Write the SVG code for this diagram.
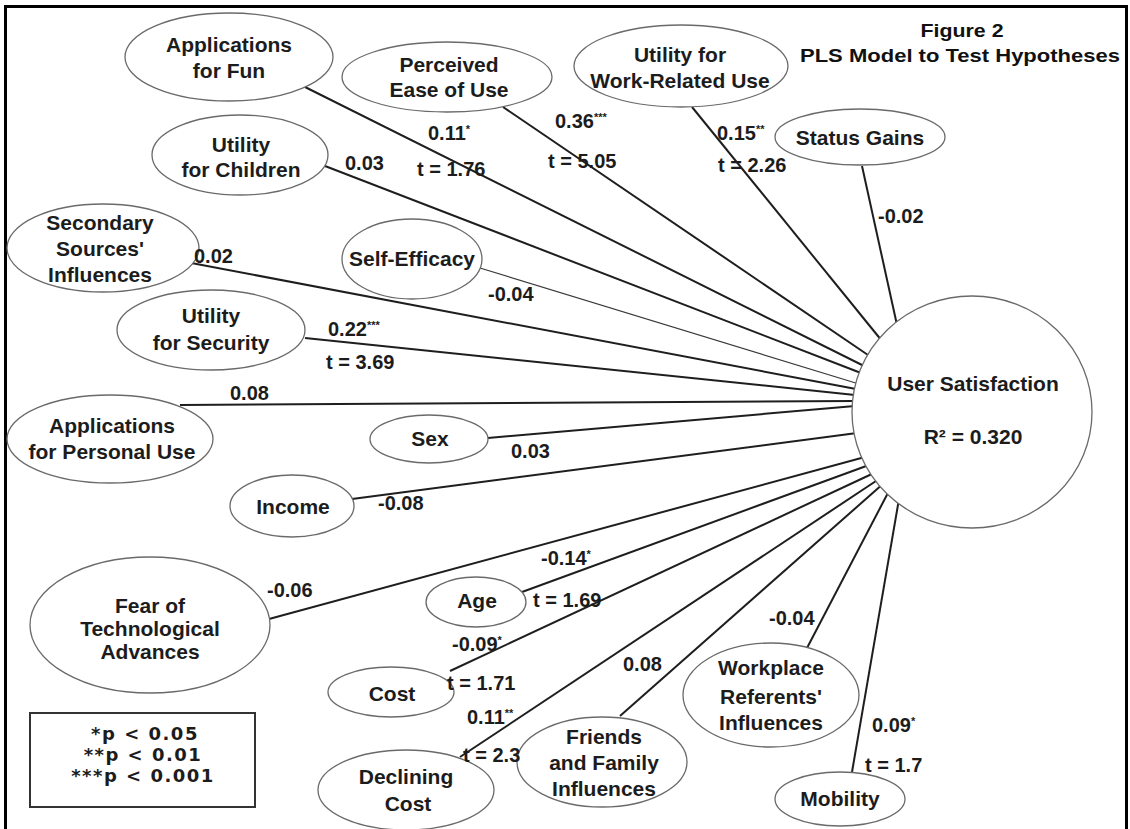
<svg xmlns="http://www.w3.org/2000/svg" width="1130" height="829" viewBox="0 0 1130 829">
<style>
.bg{fill:#fff}
.frame{fill:none;stroke:#000;stroke-width:3}
.node{fill:#fff;stroke:#6a6a6a;stroke-width:1.3}
.edge{stroke:#1e1e1e;stroke-width:2;fill:none}
.thin{stroke:#3a3a3a;stroke-width:1.3}
.nt{font-family:"Liberation Sans",Arial,sans-serif;font-weight:bold;font-size:21px;fill:#1c1c1c;text-anchor:middle}
.lbl{font-family:"Liberation Sans",Arial,sans-serif;font-weight:bold;font-size:20px;fill:#1c1c1c}
.sup{font-size:11px}
.title{font-family:"Liberation Sans",Arial,sans-serif;font-weight:bold;font-size:18px;fill:#111;text-anchor:middle}
.leg{font-family:"DejaVu Sans",Verdana,sans-serif;font-weight:bold;font-size:18px;fill:#1c1c1c;text-anchor:middle;letter-spacing:1.5px}
.legbox{fill:#fff;stroke:#333;stroke-width:2}
</style>
<rect class="bg" x="0" y="0" width="1130" height="829"/>
<rect class="frame" x="5.5" y="6.5" width="1121" height="850"/>

<g id="connectors">
<line class="edge" x1="305" y1="87" x2="864" y2="366"/>
<line class="edge" x1="503" y1="107" x2="868" y2="355"/>
<line class="edge" x1="692" y1="107" x2="882" y2="341"/>
<line class="edge" x1="862" y1="166" x2="897" y2="325"/>
<line class="edge" x1="325" y1="166" x2="861" y2="373"/>
<line class="edge" x1="186" y1="262" x2="856" y2="389"/>
<line class="edge thin" x1="480" y1="268" x2="859" y2="384"/>
<line class="edge" x1="305" y1="338" x2="855" y2="395"/>
<line class="edge" x1="180" y1="405" x2="855" y2="401"/>
<line class="edge" x1="488" y1="438" x2="855" y2="406"/>
<line class="edge" x1="352" y1="499" x2="857" y2="433"/>
<line class="edge" x1="269" y1="619" x2="865" y2="457"/>
<line class="edge" x1="522" y1="592" x2="869" y2="465"/>
<line class="edge" x1="450" y1="671" x2="874" y2="473"/>
<line class="edge" x1="460" y1="757" x2="879" y2="479"/>
<line class="edge" x1="620" y1="716" x2="884" y2="483"/>
<line class="edge" x1="807" y1="648" x2="890" y2="489"/>
<line class="edge" x1="852" y1="772" x2="899" y2="499"/>
</g>

<g id="n-fun"><ellipse class="node" cx="229" cy="57" rx="104" ry="44"/><text class="nt" x="229" y="52">Applications</text><text class="nt" x="229" y="78">for Fun</text></g>
<g id="n-peou"><ellipse class="node" cx="447" cy="77" rx="105" ry="35"/><text class="nt" x="449" y="72">Perceived</text><text class="nt" x="449" y="97">Ease of Use</text></g>
<g id="n-work"><ellipse class="node" cx="681" cy="66" rx="107" ry="41"/><text class="nt" x="680" y="62">Utility for</text><text class="nt" x="680" y="88">Work-Related Use</text></g>
<g id="n-status"><ellipse class="node" cx="860" cy="137" rx="85" ry="28"/><text class="nt" x="860" y="145">Status Gains</text></g>
<g id="n-children"><ellipse class="node" cx="240" cy="155" rx="88" ry="40"/><text class="nt" x="241" y="152">Utility</text><text class="nt" x="241" y="177">for Children</text></g>
<g id="n-secondary"><ellipse class="node" cx="103" cy="248" rx="96" ry="44"/><text class="nt" x="100" y="230">Secondary</text><text class="nt" x="100" y="256">Sources'</text><text class="nt" x="100" y="282">Influences</text></g>
<g id="n-selfeff"><ellipse class="node" cx="412" cy="259" rx="70" ry="40"/><text class="nt" x="412" y="266">Self-Efficacy</text></g>
<g id="n-security"><ellipse class="node" cx="211" cy="330" rx="94" ry="40"/><text class="nt" x="211" y="323">Utility</text><text class="nt" x="211" y="350">for Security</text></g>
<g id="n-personal"><ellipse class="node" cx="110" cy="439" rx="103" ry="44"/><text class="nt" x="112" y="433">Applications</text><text class="nt" x="112" y="459">for Personal Use</text></g>
<g id="n-sex"><ellipse class="node" cx="429" cy="439" rx="59" ry="24"/><text class="nt" x="430" y="446">Sex</text></g>
<g id="n-income"><ellipse class="node" cx="292" cy="506" rx="62" ry="31"/><text class="nt" x="293" y="514">Income</text></g>
<g id="n-fear"><ellipse class="node" cx="150" cy="625" rx="120" ry="68"/><text class="nt" x="150" y="613">Fear of</text><text class="nt" x="150" y="636">Technological</text><text class="nt" x="150" y="659">Advances</text></g>
<g id="n-age"><ellipse class="node" cx="476" cy="602" rx="50" ry="25"/><text class="nt" x="477" y="608">Age</text></g>
<g id="n-cost"><ellipse class="node" cx="391" cy="692" rx="63" ry="25"/><text class="nt" x="392" y="701">Cost</text></g>
<g id="n-declining"><ellipse class="node" cx="406" cy="790" rx="88" ry="40"/><text class="nt" x="406" y="784">Declining</text><text class="nt" x="408" y="811">Cost</text></g>
<g id="n-friends"><ellipse class="node" cx="602" cy="762" rx="85" ry="45"/><text class="nt" x="604" y="744">Friends</text><text class="nt" x="604" y="770">and Family</text><text class="nt" x="604" y="796">Influences</text></g>
<g id="n-workplace"><ellipse class="node" cx="771" cy="695" rx="88" ry="52"/><text class="nt" x="771" y="675">Workplace</text><text class="nt" x="771" y="704">Referents'</text><text class="nt" x="771" y="730">Influences</text></g>
<g id="n-mobility"><ellipse class="node" cx="840" cy="799" rx="65" ry="27"/><text class="nt" x="840" y="806">Mobility</text></g>
<g id="n-satisfaction"><ellipse class="node" cx="972" cy="412" rx="120" ry="116"/><text class="nt" x="973" y="391">User Satisfaction</text><text class="nt" x="973" y="444">R² = 0.320</text></g>

<g id="labels">
<text class="lbl" x="428" y="140">0.11<tspan class="sup" dy="-7">*</tspan></text>
<text class="lbl" x="417" y="176">t = 1.76</text>
<text class="lbl" x="555" y="128">0.36<tspan class="sup" dy="-7">***</tspan></text>
<text class="lbl" x="548" y="168">t = 5.05</text>
<text class="lbl" x="717" y="140">0.15<tspan class="sup" dy="-7">**</tspan></text>
<text class="lbl" x="718" y="172">t = 2.26</text>
<text class="lbl" x="878" y="223">-0.02</text>
<text class="lbl" x="345" y="170">0.03</text>
<text class="lbl" x="194" y="263">0.02</text>
<text class="lbl" x="488" y="301">-0.04</text>
<text class="lbl" x="328" y="336">0.22<tspan class="sup" dy="-7">***</tspan></text>
<text class="lbl" x="326" y="369">t = 3.69</text>
<text class="lbl" x="230" y="400">0.08</text>
<text class="lbl" x="511" y="458">0.03</text>
<text class="lbl" x="378" y="510">-0.08</text>
<text class="lbl" x="267" y="597">-0.06</text>
<text class="lbl" x="541" y="565">-0.14<tspan class="sup" dy="-7">*</tspan></text>
<text class="lbl" x="533" y="607">t = 1.69</text>
<text class="lbl" x="452" y="651">-0.09<tspan class="sup" dy="-7">*</tspan></text>
<text class="lbl" x="447" y="690">t = 1.71</text>
<text class="lbl" x="467" y="724">0.11<tspan class="sup" dy="-7">**</tspan></text>
<text class="lbl" x="463" y="762">t = 2.3</text>
<text class="lbl" x="623" y="671">0.08</text>
<text class="lbl" x="769" y="625">-0.04</text>
<text class="lbl" x="872" y="732">0.09<tspan class="sup" dy="-7">*</tspan></text>
<text class="lbl" x="865" y="772">t = 1.7</text>
</g>

<g id="title"><text class="title" x="962" y="37" textLength="83" lengthAdjust="spacingAndGlyphs">Figure 2</text><text class="title" x="960" y="62" textLength="320" lengthAdjust="spacingAndGlyphs">PLS Model to Test Hypotheses</text></g>

<g id="legend"><rect class="legbox" x="30" y="713" width="225" height="94"/><text class="leg" x="145" y="740">*p &lt; 0.05</text><text class="leg" x="143" y="761">**p &lt; 0.01</text><text class="leg" x="143" y="782">***p &lt; 0.001</text></g>
</svg>
